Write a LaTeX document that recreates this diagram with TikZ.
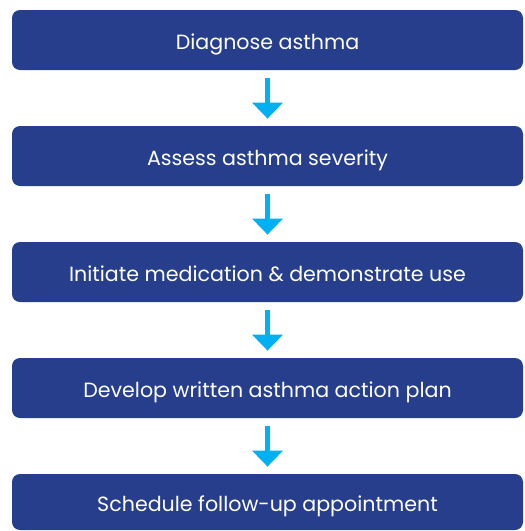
\documentclass[tikz,border=0pt]{standalone}
\usepackage{fontspec}
\setmainfont{Poppins}
\usetikzlibrary{arrows.meta}
\definecolor{stepblue}{RGB}{38,62,140}
\definecolor{arrowcyan}{RGB}{0,176,240}
\tikzset{
  stepbox/.style={fill=stepblue,rounded corners=4pt,minimum width=255.5pt,
    minimum height=30pt,inner sep=0pt,text height=10pt,text depth=1pt,
    text=white,font=\fontsize{10.3}{12}\selectfont},
  flow/.style={arrowcyan,line width=2.5pt,-{Triangle[width=15pt,length=8pt]},
    shorten <=4pt,shorten >=3.5pt}
}
\begin{document}
\begin{tikzpicture}[x=0.5pt,y=-0.5pt]
  \useasboundingbox (0,0) rectangle (525,531);
  % steps
  \node[stepbox] (diagnose) at (267.5,40) {Diagnose asthma};
  \node[stepbox] (severity) at (267.5,156) {Assess asthma severity};
  \node[stepbox] (medication) at (267.5,272) {Initiate medication \& demonstrate use};
  \node[stepbox] (plan) at (267.5,388) {Develop written asthma action plan};
  \node[stepbox,minimum height=28pt] (followup) at (267.5,502) {Schedule follow-up appointment};
  % arrows
  \draw[flow] (diagnose) -- (severity);
  \draw[flow] (severity) -- (medication);
  \draw[flow] (medication) -- (plan);
  \draw[flow] (plan) -- (followup);
\end{tikzpicture}
\end{document}
